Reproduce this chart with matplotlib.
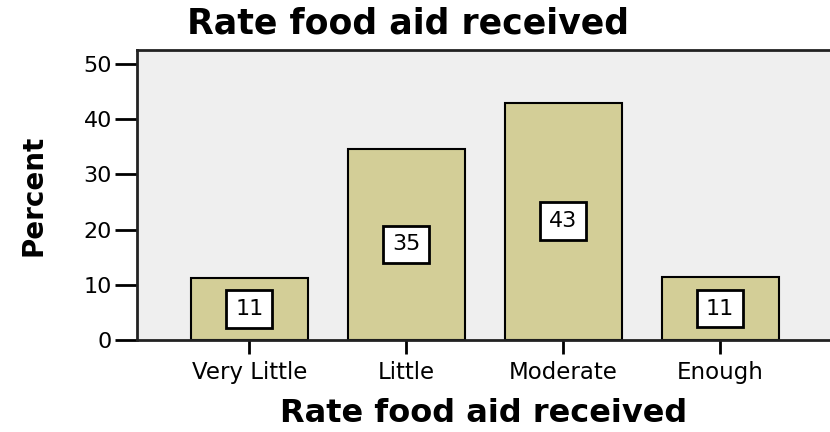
import matplotlib.pyplot as plt

# Data
categories = ['Very Little', 'Little', 'Moderate', 'Enough']
percents = [11.2, 34.6, 43.0, 11.4]
tick_values = [0, 10, 20, 30, 40, 50]

plt.rcParams['font.family'] = ['DejaVu Sans']

fig = plt.figure(figsize=(8.3, 4.32), dpi=100)
ax = fig.add_axes([0.165, 0.213, 0.835, 0.671])
ax.set_facecolor('#efefef')

x = range(len(categories))
ax.bar(x, percents, width=0.745, color='#d3ce97', edgecolor='black', linewidth=1.5, zorder=2)

# value boxes in the middle of each bar
for i, v in enumerate(percents):
    ax.text(i, v / 2, f'{round(v)}', ha='center', va='center', fontsize=16, zorder=3,
            bbox=dict(boxstyle='square,pad=0.4', facecolor='white', edgecolor='black', linewidth=2))

ax.set_xlim(-0.717, 3.70)
ax.set_ylim(0, 52.5)
ax.set_xticks(list(x))
ax.set_xticklabels(categories, fontsize=16.5)
ax.set_yticks(tick_values)
ax.set_yticklabels([str(t) for t in tick_values], fontsize=16)
ax.tick_params(axis='y', length=16, width=2, pad=2)
ax.tick_params(axis='x', length=10, width=2, pad=5)

for side in ['left', 'top', 'bottom']:
    ax.spines[side].set_linewidth(2)
    ax.spines[side].set_color('#222222')
ax.spines['right'].set_visible(False)

ax.set_ylabel('Percent', fontsize=20, fontweight='bold', labelpad=26)
ax.set_xlabel('Rate food aid received', fontsize=23, fontweight='bold', labelpad=10)
fig.text(0.492, 0.945, 'Rate food aid received', ha='center', va='center', fontsize=25, fontweight='bold')

fig.savefig('out.png', dpi=100)
